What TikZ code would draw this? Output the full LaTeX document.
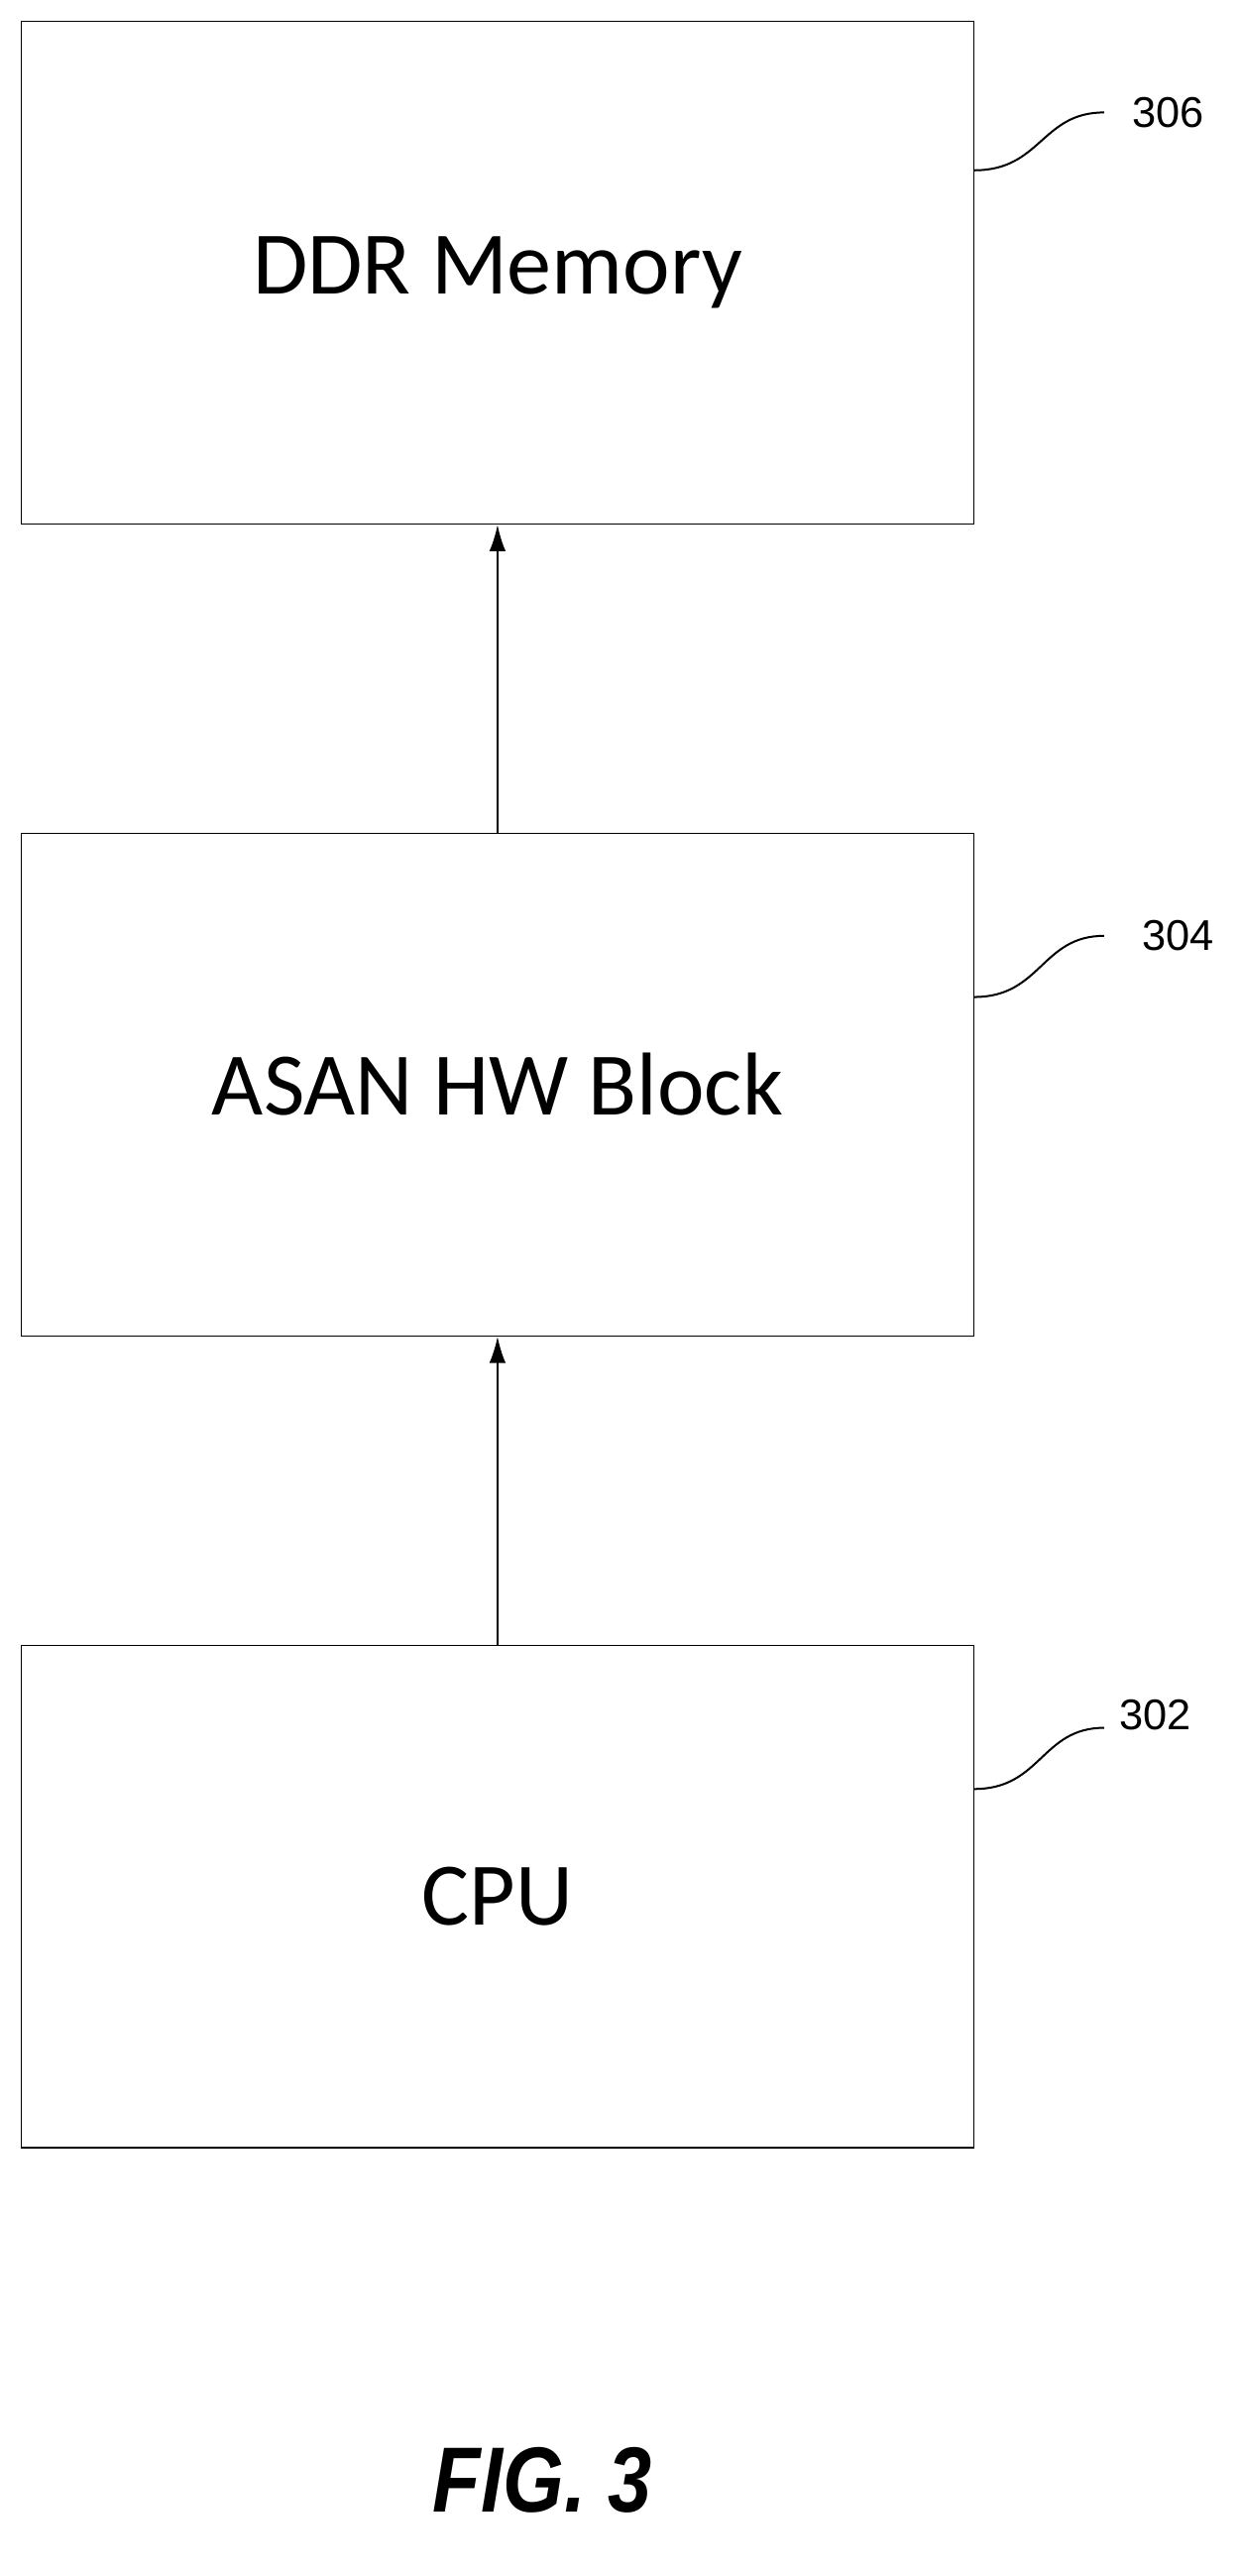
\documentclass[tikz,border=0pt]{standalone}
\usepackage{fontspec}
\setmainfont{Carlito}
\newfontfamily\labelfont{Liberation Sans}
\usetikzlibrary{positioning,arrows.meta}

\tikzset{
  block/.style={draw, line width=0.8pt, minimum width=576pt, minimum height=304pt,
    inner sep=0pt, font=\fontsize{54}{64}\selectfont},
  refnum/.style={font=\labelfont\fontsize{26}{30}\selectfont, inner sep=1pt},
  flow/.style={-{Latex[length=16pt,width=10pt]}, line width=1.2pt},
  lead/.style={line width=1.2pt}
}

\begin{document}
\begin{tikzpicture}[x=1pt, y=1pt]
\useasboundingbox (0,0) rectangle (750,-1558);

\node[block] (ddr) at (301,-165) {DDR Memory};
\node[block] (asan) at (301,-656) {ASAN HW Block};
\node[block] (cpu) at (301,-1147) {CPU};

\draw[flow] (cpu.north) -- (asan.south);
\draw[flow] (asan.north) -- (ddr.south);

% reference numerals
\node[refnum, anchor=west] (n306) at (684,-68) {306};
\node[refnum, anchor=west] (n304) at (690,-566) {304};
\node[refnum, anchor=west] (n302) at (676,-1037) {302};

\draw[lead] ([yshift=62pt]ddr.east) .. controls (630,-103) and (630,-68) .. (668,-68);
\draw[lead] ([yshift=53pt]asan.east) .. controls (630,-603) and (630,-566) .. (668,-566);
\draw[lead] ([yshift=65pt]cpu.east) .. controls (630,-1082) and (630,-1045) .. (668,-1045);

\node[font=\labelfont\bfseries\itshape\fontsize{56}{66}\selectfont, xscale=0.85] (fig) at (328,-1500) {FIG. 3};
\end{tikzpicture}
\end{document}
